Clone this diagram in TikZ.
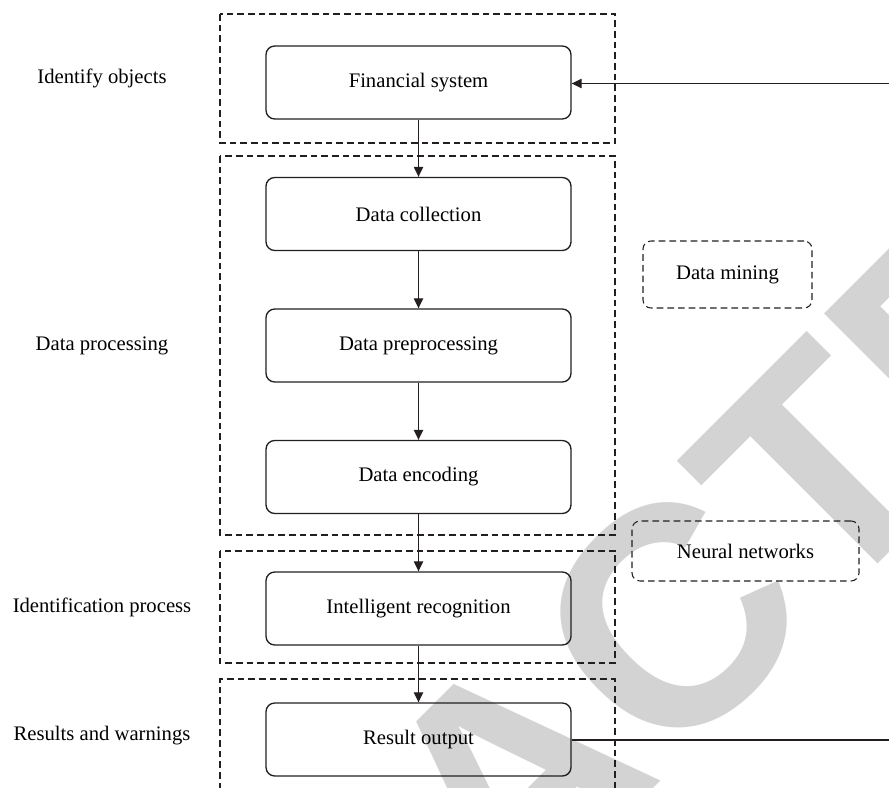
\documentclass[tikz,border=0pt]{standalone}
\usepackage{fontspec}
\setmainfont{Liberation Serif}
\newfontfamily\wmfont{Liberation Sans}
\usetikzlibrary{arrows.meta}
\definecolor{ink}{HTML}{231F20}
\definecolor{wm}{HTML}{D3D3D3}
\begin{document}
\begin{tikzpicture}[x=0.75pt,y=-0.75pt,
  every node/.style={font=\fontsize{15.5}{18}\selectfont, text=black},
  stepbox/.style={draw=ink, line width=1pt, rounded corners=6.5pt, minimum width=228.75pt, minimum height=54.75pt, inner sep=0pt},
  region/.style={draw=ink, line width=0.8pt, dash pattern=on 5pt off 3pt},
  toolbox/.style={draw=ink, line width=0.8pt, dash pattern=on 5pt off 3pt, rounded corners=6pt, inner sep=0pt},
  flow/.style={draw=ink, line width=0.9pt, -{Triangle[length=7.5pt,width=7pt]}},
  plain/.style={draw=ink, line width=0.9pt},
  lbl/.style={inner sep=0pt}]
\useasboundingbox (0,0) rectangle (889,788);
\clip (0,0) rectangle (889,788);
% watermark
\node[rotate=45, anchor=base west, inner sep=0pt, text=wm, font=\wmfont\bfseries\fontsize{234}{234}\selectfont] (wmark) at (-93,1535) {RETRACTED};
% regions
\draw[region] (220,14) rectangle (615,143);
\draw[region] (220,156) rectangle (615,535);
\draw[region] (220,551) rectangle (615,663);
\draw[region] (220,800) -- (220,679) -- (615,679) -- (615,800);
% side labels
\node[lbl] (l1) at (102,78) {Identify objects};
\node[lbl] (l2) at (102,346) {Data processing};
\node[lbl] (l3) at (102,607) {Identification process};
\node[lbl] (l4) at (102,736) {Results and warnings};
% steps
\node[stepbox] (fin) at (418.5,82.5) {Financial system};
\node[stepbox] (col) at (418.5,214) {Data collection};
\node[stepbox] (pre) at (418.5,345.5) {Data preprocessing};
\node[stepbox] (enc) at (418.5,477) {Data encoding};
\node[stepbox] (rec) at (418.5,608.5) {Intelligent recognition};
\node[stepbox] (res) at (418.5,739.5) {Result output};
% tools
\node[toolbox, minimum width=126.75pt, minimum height=50.25pt] (dm) at (727.5,274.5) {Data mining};
\node[toolbox, minimum width=170.25pt, minimum height=45pt] (nn) at (745.5,551) {Neural networks};
% connectors
\draw[flow] (fin) -- (col);
\draw[flow] (col) -- (pre);
\draw[flow] (pre) -- (enc);
\draw[flow] (enc) -- (rec);
\draw[flow] (rec) -- (res);
\coordinate (outR) at (889,740);
\coordinate (inR) at (889,83.5);
\draw[plain] (res.east |- outR) -- (outR);
\draw[flow] (inR) -- (fin.east |- inR);
\end{tikzpicture}
\end{document}
